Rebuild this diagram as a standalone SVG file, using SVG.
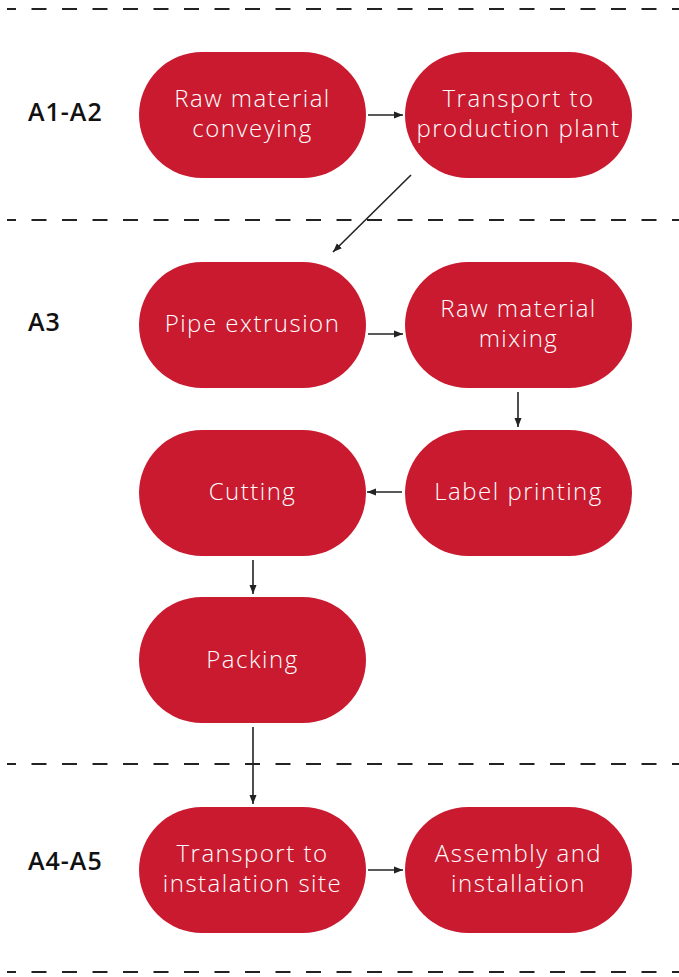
<svg xmlns="http://www.w3.org/2000/svg" width="679" height="977" viewBox="0 0 679 977">
<style>
.node rect{fill:#c91a30}
.node text{fill:#fff;font-family:"Open Sans","Liberation Sans",sans-serif;font-size:24px;font-weight:300;letter-spacing:1.5px;text-anchor:middle}
.sec{fill:#111;font-family:"Open Sans","Liberation Sans",sans-serif;font-size:25px;font-weight:600;letter-spacing:1px}
.dash{stroke:#222;stroke-width:2;stroke-dasharray:15 15.5;stroke-dashoffset:6}
.conn line{stroke:#222;stroke-width:1.6;marker-end:url(#ah)}
</style>
<defs>
<marker id="ah" markerUnits="userSpaceOnUse" markerWidth="10" markerHeight="10" refX="9" refY="5" orient="auto">
<path d="M0,1.5 L9,5 L0,8.5 Z" fill="#222"/>
</marker>
</defs>
<rect width="679" height="977" fill="#fff"/>
<g id="separators">
<line class="dash" x1="7" y1="9" x2="679" y2="9"/>
<line class="dash" x1="7" y1="220" x2="679" y2="220"/>
<line class="dash" x1="7" y1="764" x2="679" y2="764"/>
<line class="dash" x1="7" y1="972" x2="679" y2="972"/>
</g>
<g id="sections">
<text class="sec" x="28" y="121">A1-A2</text>
<text class="sec" x="28" y="331">A3</text>
<text class="sec" x="28" y="870">A4-A5</text>
</g>
<g id="n1" class="node"><rect x="139" y="52" width="227" height="126" rx="63"/><text x="252.5" y="107">Raw material</text><text x="252.5" y="137">conveying</text></g>
<g id="n2" class="node"><rect x="405" y="52" width="227" height="126" rx="63"/><text x="518.5" y="107">Transport to</text><text x="518.5" y="137">production plant</text></g>
<g id="n3" class="node"><rect x="139" y="262" width="227" height="126" rx="63"/><text x="252.5" y="332">Pipe extrusion</text></g>
<g id="n4" class="node"><rect x="405" y="262" width="227" height="126" rx="63"/><text x="518.5" y="317">Raw material</text><text x="518.5" y="347">mixing</text></g>
<g id="n5" class="node"><rect x="405" y="430" width="227" height="126" rx="63"/><text x="518.5" y="500">Label printing</text></g>
<g id="n6" class="node"><rect x="139" y="430" width="227" height="126" rx="63"/><text x="252.5" y="500">Cutting</text></g>
<g id="n7" class="node"><rect x="139" y="597" width="227" height="126" rx="63"/><text x="252.5" y="668">Packing</text></g>
<g id="n8" class="node"><rect x="139" y="807" width="227" height="126" rx="63"/><text x="252.5" y="862">Transport to</text><text x="252.5" y="892">instalation site</text></g>
<g id="n9" class="node"><rect x="405" y="807" width="227" height="126" rx="63"/><text x="518.5" y="862">Assembly and</text><text x="518.5" y="892">installation</text></g>
<g id="connectors" class="conn">
<line x1="368" y1="115" x2="403" y2="115"/>
<line x1="411" y1="175" x2="333" y2="252"/>
<line x1="368" y1="334" x2="403" y2="334"/>
<line x1="518" y1="392" x2="518" y2="427"/>
<line x1="402" y1="492" x2="367" y2="492"/>
<line x1="253" y1="560" x2="253" y2="594"/>
<line x1="253" y1="727" x2="253" y2="804"/>
<line x1="368" y1="870" x2="403" y2="870"/>
</g>
</svg>
